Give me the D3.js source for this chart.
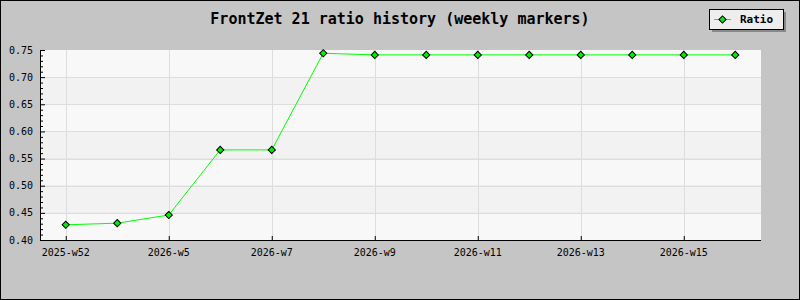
<!DOCTYPE html>
<html>
<head>
<meta charset="utf-8">
<script src="https://cdn.jsdelivr.net/npm/d3@7"></script>
<style>
  body { margin: 0; padding: 0; background: #fff; }
  svg { display: block; }
  text { font-family: "DejaVu Sans Mono", "Liberation Mono", monospace; }
</style>
</head>
<body>
<div id="chart"></div>
<script>
// chart data
const weeks = ["2025-w52", "2026-w3", "2026-w5", "2026-w6", "2026-w7", "2026-w8", "2026-w9",
               "2026-w10", "2026-w11", "2026-w12", "2026-w13", "2026-w14", "2026-w15", "2026-w16"];
const ratioValues = [0.428, 0.431, 0.446, 0.566, 0.566, 0.744, 0.741,
                     0.741, 0.741, 0.741, 0.741, 0.741, 0.741, 0.741];
const yTicks = [0.40, 0.45, 0.50, 0.55, 0.60, 0.65, 0.70, 0.75];
const seriesName = "Ratio";
const chartTitle = "FrontZet 21 ratio history (weekly markers)";

const width = 800, height = 300;
const margin = {top: 50, right: 39, bottom: 60, left: 40};
const plotW = width - margin.left - margin.right;
const plotH = height - margin.top - margin.bottom;

const svg = d3.select("#chart").append("svg")
    .attr("width", width)
    .attr("height", height);

// background + frame
svg.append("rect")
    .attr("x", 0.5).attr("y", 0.5)
    .attr("width", width - 1).attr("height", height - 1)
    .attr("fill", "#c5c5c5")
    .attr("stroke", "#000");

const g = svg.append("g")
    .attr("transform", `translate(${margin.left},${margin.top})`);

// scales
const x = d3.scalePoint()
    .domain(weeks)
    .range([0, plotW])
    .padding(0.5);

const y = d3.scaleLinear()
    .domain([0.40, 0.75])
    .range([plotH, 0]);

// alternating bands, light one on top
const bands = d3.pairs(yTicks);
g.selectAll(".band")
    .data(bands)
    .enter().append("rect")
    .attr("class", "band")
    .attr("x", 0)
    .attr("y", d => y(d[1]))
    .attr("width", plotW)
    .attr("height", d => y(d[0]) - y(d[1]))
    .attr("fill", (d, i) => (bands.length - 1 - i) % 2 === 0 ? "#f8f8f8" : "#f2f2f2");

const labelledWeeks = weeks.filter((d, i) => i % 2 === 0);

// grid
g.selectAll(".hgrid")
    .data(yTicks.slice(1, -1))
    .enter().append("line")
    .attr("x1", 0).attr("x2", plotW)
    .attr("y1", d => Math.round(y(d)) + 0.5)
    .attr("y2", d => Math.round(y(d)) + 0.5)
    .attr("stroke", "#dddddd");

g.selectAll(".vgrid")
    .data(labelledWeeks)
    .enter().append("line")
    .attr("x1", d => Math.round(x(d)) + 0.5)
    .attr("x2", d => Math.round(x(d)) + 0.5)
    .attr("y1", 0).attr("y2", plotH)
    .attr("stroke", "#dddddd");

// y axis: inward ticks, major every 0.05, minor every 0.01
const yAxis = d3.axisRight(y)
    .tickValues(d3.range(0.40, 0.7501, 0.01))
    .tickSize(3)
    .tickFormat("");
const yAxisGroup = g.append("g").call(yAxis);
yAxisGroup.select(".domain").remove();
yAxisGroup.selectAll(".tick line")
    .attr("x2", d => Math.abs(Math.round(d * 100) % 5) === 0 ? 5 : 3)
    .attr("stroke", "#000");

g.append("line")
    .attr("x1", 0.5).attr("x2", 0.5)
    .attr("y1", 0).attr("y2", plotH)
    .attr("stroke", "#000");

g.selectAll(".ylabel")
    .data(yTicks)
    .enter().append("text")
    .attr("x", -7)
    .attr("y", d => y(d))
    .attr("dy", "0.35em")
    .attr("text-anchor", "end")
    .attr("font-size", 10)
    .attr("fill", "#000")
    .text(d => d3.format(".2f")(d));

// x axis
const xAxis = d3.axisTop(x)
    .tickValues(labelledWeeks)
    .tickSize(4)
    .tickFormat("");
const xAxisGroup = g.append("g")
    .attr("transform", `translate(0,${plotH})`)
    .call(xAxis);
xAxisGroup.select(".domain").remove();
xAxisGroup.selectAll(".tick line").attr("stroke", "#000");

g.append("line")
    .attr("x1", 0).attr("x2", plotW)
    .attr("y1", plotH + 0.5).attr("y2", plotH + 0.5)
    .attr("stroke", "#000");

g.selectAll(".xlabel")
    .data(labelledWeeks)
    .enter().append("text")
    .attr("x", d => x(d))
    .attr("y", plotH + 12)
    .attr("dy", "0.35em")
    .attr("text-anchor", "middle")
    .attr("font-size", 10)
    .attr("fill", "#000")
    .text(d => d);

// series
const line = d3.line()
    .x((d, i) => x(weeks[i]))
    .y(d => y(d));

g.append("path")
    .datum(ratioValues)
    .attr("d", line)
    .attr("fill", "none")
    .attr("stroke", "#00ff00")
    .attr("stroke-width", 1);

const marker = d3.symbol().type(d3.symbolSquare).size(26);

g.selectAll(".marker")
    .data(ratioValues)
    .enter().append("path")
    .attr("class", "marker")
    .attr("transform", (d, i) => `translate(${x(weeks[i])},${y(d)}) rotate(45)`)
    .attr("d", marker)
    .attr("fill", "#00ee00")
    .attr("stroke", "#000")
    .attr("stroke-width", 1);

// title
svg.append("text")
    .attr("x", width / 2)
    .attr("y", 19)
    .attr("dy", "0.35em")
    .attr("text-anchor", "middle")
    .attr("font-size", 15)
    .attr("font-weight", "bold")
    .attr("fill", "#000")
    .text(chartTitle);

// legend
const legend = svg.append("g").attr("transform", "translate(709,9)");
legend.append("rect")
    .attr("x", 3).attr("y", 3)
    .attr("width", 74).attr("height", 20)
    .attr("fill", "#888");
legend.append("rect")
    .attr("x", 0.5).attr("y", 0.5)
    .attr("width", 74).attr("height", 20)
    .attr("fill", "#eeeeee")
    .attr("stroke", "#000");
legend.append("line")
    .attr("x1", 5).attr("x2", 22)
    .attr("y1", 10.5).attr("y2", 10.5)
    .attr("stroke", "#00ff00");
legend.append("path")
    .attr("transform", "translate(13.5,10.5) rotate(45)")
    .attr("d", marker)
    .attr("fill", "#00ee00")
    .attr("stroke", "#000");
legend.append("text")
    .attr("x", 31)
    .attr("y", 10.5)
    .attr("dy", "0.35em")
    .attr("font-size", 11)
    .attr("font-weight", "bold")
    .attr("fill", "#000")
    .text(seriesName);
</script>
</body>
</html>
